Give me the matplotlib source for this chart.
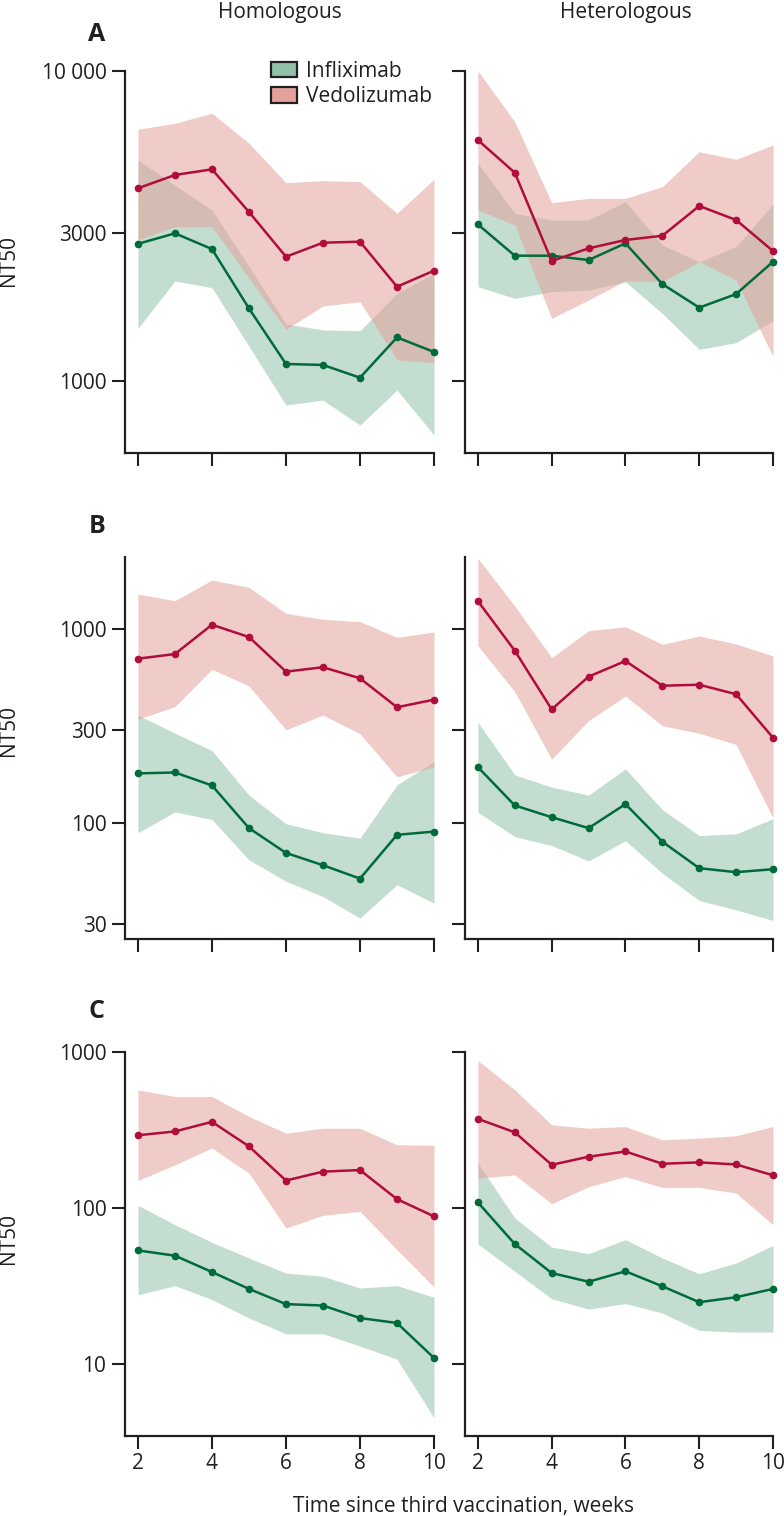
import matplotlib
matplotlib.use("Agg")
import matplotlib.pyplot as plt
from matplotlib.patches import Patch
from matplotlib.ticker import NullLocator

plt.rcParams['font.family'] = ['Open Sans', 'DejaVu Sans']

# weeks since third vaccination
weeks = [2, 3, 4, 5, 6, 7, 8, 9, 10]

# A - homologous
infl_hom_a = [2770, 2995, 2665, 1715, 1135, 1127, 1025, 1383, 1241]
infl_hom_a_lo = [1479, 2103, 2000, 1294, 837, 868, 721, 935, 670]
infl_hom_a_hi = [5165, 4285, 3565, 2340, 1528, 1462, 1453, 1919, 2223]
vedo_hom_a = [4185, 4620, 4818, 3510, 2518, 2794, 2815, 2015, 2270]
vedo_hom_a_lo = [2850, 3150, 3150, 2147, 1468, 1746, 1803, 1170, 1146]
vedo_hom_a_hi = [6490, 6780, 7310, 5846, 4364, 4430, 4396, 3474, 4475]

# A - heterologous
infl_het_a = [3200, 2537, 2537, 2456, 2781, 2055, 1725, 1908, 2425]
infl_het_a_lo = [2015, 1848, 1941, 1966, 2090, 1653, 1265, 1330, 1565]
infl_het_a_hi = [5036, 3474, 3307, 3307, 3789, 2748, 2425, 2713, 3724]
vedo_het_a = [5988, 4698, 2438, 2679, 2851, 2942, 3670, 3307, 2626]
vedo_het_a_lo = [3562, 3186, 1593, 1825, 2107, 2091, 2425, 2117, 1198]
vedo_het_a_hi = [10000, 6860, 3760, 3883, 3883, 4236, 5491, 5190, 5772]

# B - homologous
infl_hom_b = [180, 182, 156, 94, 70, 60.5, 51.6, 86.8, 90.2]
infl_hom_b_lo = [89, 114, 104, 64.5, 50, 41.7, 32.3, 48, 38.5]
infl_hom_b_hi = [360, 290, 236, 139, 99, 89, 83.4, 157, 207]
vedo_hom_b = [703, 743, 1052, 909, 603, 635, 557, 395, 432]
vedo_hom_b_lo = [343, 398, 620, 508, 302, 360, 288, 173, 194]
vedo_hom_b_hi = [1514, 1400, 1789, 1640, 1205, 1122, 1091, 906, 965]

# B - heterologous
infl_het_b = [194, 123, 107, 94, 125, 80, 58.4, 55.7, 57.7]
infl_het_b_lo = [113.5, 85, 76.4, 63.7, 81, 55, 39.8, 35.6, 31.4]
infl_het_b_hi = [330, 177, 153, 139, 190, 117, 86, 87.8, 105]
vedo_het_b = [1393, 773, 385, 568, 684, 510, 516, 461, 275]
vedo_het_b_lo = [820, 475, 213, 337, 451, 317, 290, 254, 106]
vedo_het_b_hi = [2314, 1314, 711, 980, 1028, 834, 920, 837, 726]

# C - homologous
infl_hom_c = [53.6, 49.6, 39, 30.4, 24.3, 23.8, 19.8, 18.4, 11]
infl_hom_c_lo = [27.9, 31.9, 26, 19.8, 15.7, 15.7, 13.1, 10.8, 4.55]
infl_hom_c_hi = [104, 78.3, 60.3, 47.9, 38.4, 36.6, 30.8, 31.9, 26.9]
vedo_hom_c = [292, 309, 356, 248, 150, 171, 175, 114, 88.5]
vedo_hom_c_lo = [150, 189, 242, 167, 74.5, 89.8, 95.2, 54.2, 31.3]
vedo_hom_c_hi = [570, 517, 517, 385, 301, 324, 324, 254, 252]

# C - heterologous
infl_het_c = [108.7, 58.9, 38.4, 33.8, 39.4, 31.6, 25, 26.9, 30.4]
infl_het_c_lo = [58.9, 39.4, 26.3, 22.6, 24.5, 21.3, 16.5, 16.1, 16.1]
infl_het_c_hi = [194, 86.3, 56.3, 51.1, 62.8, 47.9, 38, 44.5, 57.7]
vedo_het_c = [372, 305, 189, 213, 230, 192, 196, 190, 162]
vedo_het_c_lo = [155, 163, 106.6, 137, 159, 135.5, 135.5, 124.7, 78.3]
vedo_het_c_hi = [878, 570, 341, 324, 332, 273, 280, 290, 332]

# axis ticks / limits per row
yticks_a = [1000, 3000, 10000]
yticklabels_a = ['1000', '3000', '10 000']
yticks_b = [30, 100, 300, 1000]
yticklabels_b = ['30', '100', '300', '1000']
yticks_c = [10, 100, 1000]
yticklabels_c = ['10', '100', '1000']
xticks = [2, 4, 6, 8, 10]

GREEN = '#006B3A'
RED = '#B00C3C'
GREEN_FILL = '#92C1AA'
RED_FILL = '#E4A29B'
INK = '#231F20'

W, H = 784, 1516
fig = plt.figure(figsize=(W / 100, H / 100), dpi=100)


def make_ax(left_px, top_px, right_px, bottom_px):
    return fig.add_axes([left_px / W, 1 - bottom_px / H,
                         (right_px - left_px) / W, (bottom_px - top_px) / H])


def draw_panel(ax, infl, infl_lo, infl_hi, vedo, vedo_lo, vedo_hi,
               ylim, yticks, yticklabels, show_ylabels, show_xlabels):
    ax.fill_between(weeks, infl_lo, infl_hi, color=GREEN_FILL, alpha=0.55, lw=0)
    ax.fill_between(weeks, vedo_lo, vedo_hi, color=RED_FILL, alpha=0.55, lw=0)
    ax.plot(weeks, infl, color=GREEN, lw=1.8, marker='o', ms=4.5, clip_on=False, zorder=3)
    ax.plot(weeks, vedo, color=RED, lw=1.8, marker='o', ms=4.5, clip_on=False, zorder=4)

    ax.set_yscale('log')
    ax.set_ylim(*ylim)
    ax.set_xlim(1.65, 10)
    ax.set_yticks(yticks)
    ax.set_yticklabels(yticklabels if show_ylabels else [''] * len(yticks))
    ax.yaxis.set_minor_locator(NullLocator())
    ax.set_xticks(xticks)
    ax.set_xticklabels([str(t) for t in xticks] if show_xlabels else [''] * len(xticks))

    for s in ['top', 'right']:
        ax.spines[s].set_visible(False)
    for s in ['left', 'bottom']:
        ax.spines[s].set_linewidth(1.6)
        ax.spines[s].set_color(INK)
    ax.tick_params(direction='out', length=9.4, width=1.5, color=INK,
                   labelsize=15, labelcolor=INK)
    ax.tick_params(axis='y', pad=4.0)
    ax.tick_params(axis='x', pad=3.0)
    ax.patch.set_alpha(0)


rows = [
    (71, 453, (586, 10000), yticks_a, yticklabels_a,
     (infl_hom_a, infl_hom_a_lo, infl_hom_a_hi, vedo_hom_a, vedo_hom_a_lo, vedo_hom_a_hi),
     (infl_het_a, infl_het_a_lo, infl_het_a_hi, vedo_het_a, vedo_het_a_lo, vedo_het_a_hi)),
    (556.7, 939.3, (25.1, 2360), yticks_b, yticklabels_b,
     (infl_hom_b, infl_hom_b_lo, infl_hom_b_hi, vedo_hom_b, vedo_hom_b_lo, vedo_hom_b_hi),
     (infl_het_b, infl_het_b_lo, infl_het_b_hi, vedo_het_b, vedo_het_b_lo, vedo_het_b_hi)),
    (1051.7, 1435.7, (3.5, 1000), yticks_c, yticklabels_c,
     (infl_hom_c, infl_hom_c_lo, infl_hom_c_hi, vedo_hom_c, vedo_hom_c_lo, vedo_hom_c_hi),
     (infl_het_c, infl_het_c_lo, infl_het_c_hi, vedo_het_c, vedo_het_c_lo, vedo_het_c_hi)),
]

axes = []
for i, (top, bottom, ylim, yt, ytl, hom, het) in enumerate(rows):
    last = i == len(rows) - 1
    ax_l = make_ax(125, top, 434, bottom)
    draw_panel(ax_l, *hom, ylim, yt, ytl, True, last)
    ax_r = make_ax(465, top, 773, bottom)
    draw_panel(ax_r, *het, ylim, yt, ytl, False, last)
    axes.append((ax_l, ax_r))

# column titles
fig.text(280 / W, 1 - 18.3 / H, 'Homologous', ha='center', va='baseline', fontsize=15, color=INK)
fig.text(626 / W, 1 - 18.3 / H, 'Heterologous', ha='center', va='baseline', fontsize=15, color=INK)

# panel letters
for letter, base in [('A', 40.7), ('B', 533.3), ('C', 1018)]:
    fig.text(97 / W, 1 - base / H, letter, ha='center', va='baseline',
             fontsize=18, fontweight='bold', color=INK)

# y labels
for yc in [261, 731, 1239]:
    fig.text(9 / W, 1 - yc / H, 'NT50', rotation=90, ha='center', va='center',
             fontsize=15, color=INK)

fig.text(463.5 / W, 1 - 1512 / H, 'Time since third vaccination, weeks',
         ha='center', va='baseline', fontsize=15, color=INK)

handles = [Patch(facecolor=GREEN_FILL, edgecolor=INK, lw=1.6, label='Infliximab'),
           Patch(facecolor=RED_FILL, edgecolor=INK, lw=1.6, label='Vedolizumab')]
axes[0][0].legend(handles=handles, loc='upper left', bbox_to_anchor=(271 / W, 1 - 61 / H),
                  bbox_transform=fig.transFigure, frameon=False, fontsize=15,
                  handlelength=1.25, handleheight=0.75, handletextpad=0.45,
                  labelspacing=0.2, borderpad=0, borderaxespad=0, labelcolor=INK)

fig.savefig('out.png', dpi=100)
